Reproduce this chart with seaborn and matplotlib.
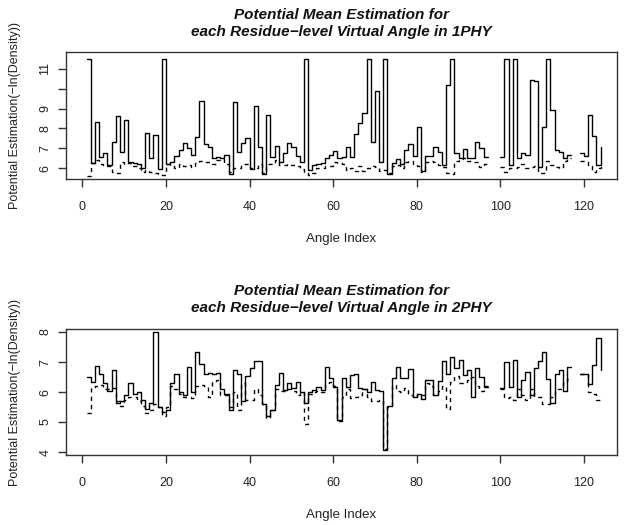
import numpy as np
import pandas as pd
import matplotlib
matplotlib.use("Agg")
import matplotlib.pyplot as plt
import seaborn as sns

nan = np.nan
angle_index = list(range(1, 125))

top_solid = [11.5, 6.25, 8.3, 6.58, 6.75, 6.17, 7.33, 8.6, 6.8, 8.4,
             6.3, 6.25, 6.2, 6.0, 7.77, 6.5, 7.67, 5.97, 11.5, 6.2,
             6.33, 6.63, 6.92, 7.25, 7.0, 6.67, 7.58, 9.37, 7.2, 7.07,
             6.53, 6.58, 6.53, 6.67, 5.72, 9.33, 6.8, 7.25, 7.5, 5.97,
             9.13, 7.05, 5.7, 8.67, 6.58, 7.12, 6.33, 6.78, 7.25, 7.05,
             6.63, 6.33, 11.5, 5.92, 6.17, 6.22, 6.25, 6.53, 6.67, 6.87,
             6.5, 6.58, 7.05, 6.58, 7.7, 8.25, 8.78, 11.5, 7.33, 9.87,
             6.3, 11.5, 5.7, 6.25, 6.45, 6.22, 6.9, 7.2, 6.63, 8.08,
             5.85, 6.6, 6.63, 7.08, 6.8, 6.17, 10.17, 11.5, 6.75, 6.5,
             6.97, 6.5, 6.5, 7.33, 7.03, 6.58, 6.58, nan, nan, 6.58,
             11.5, 6.15, 11.5, 6.5, 6.78, 6.67, 10.42, 10.38, 6.03, 8.08,
             11.5, 8.92, 6.92, 6.83, 6.5, 6.67, 6.67, nan, 6.75, 6.6,
             8.67, 7.63, 6.17, 7.08]

top_dashed = [5.6, 6.25, 6.4, 6.2, 6.15, 6.1, 5.8, 5.75, 6.3, 6.2,
              6.25, 6.1, 6.0, 5.8, 5.9, 5.8, 5.75, 5.7, 5.65, 6.2,
              6.1, 6.0, 6.2, 6.1, 6.15, 6.05, 6.25, 6.35, 6.3, 6.3,
              6.2, 6.4, 6.45, 6.2, 5.8, 6.0, 6.0, 6.2, 6.2, 6.0,
              6.0, 6.2, 5.75, 6.2, 6.2, 6.4, 6.15, 6.15, 6.2, 6.15,
              6.1, 5.95, 5.8, 5.65, 5.75, 6.0, 6.0, 6.1, 6.1, 6.3,
              6.25, 6.2, 5.9, 6.0, 5.85, 6.1, 5.85, 6.0, 6.1, 6.05,
              5.85, 5.9, 5.75, 6.1, 6.15, 6.0, 6.3, 6.35, 6.2, 6.1,
              5.8, 6.3, 6.35, 6.3, 6.15, 6.05, 5.75, 5.7, 6.35, 6.45,
              6.5, 6.35, 6.3, 6.3, 6.05, 6.2, 6.2, nan, nan, 6.05,
              5.8, 6.0, 6.0, 6.05, 6.2, 6.0, 6.05, 6.1, 5.75, 5.75,
              6.35, 6.15, 6.05, 6.0, 6.35, 6.5, 6.5, nan, 6.35, 6.35,
              6.1, 5.8, 6.0, 6.1]

bot_solid = [6.49, 6.32, 6.86, 6.59, 6.3, 6.05, 6.73, 5.65, 5.7, 5.9,
             6.3, 5.95, 6.0, 5.75, 5.45, 5.65, 8.0, 5.5, 5.35, 5.4,
             6.3, 6.6, 6.0, 5.9, 6.85, 6.0, 7.35, 6.95, 6.6, 6.65,
             6.6, 6.65, 6.1, 5.95, 5.4, 6.75, 6.6, 5.7, 6.55, 6.8,
             7.05, 7.05, 5.6, 5.2, 5.4, 6.23, 6.62, 6.07, 6.3, 6.15,
             6.35, 6.0, 5.62, 6.0, 6.07, 6.18, 6.07, 6.85, 6.46, 6.18,
             5.07, 6.48, 6.18, 6.57, 6.59, 6.12, 6.1, 6.0, 6.32, 6.07,
             6.05, 4.07, 5.55, 6.48, 6.85, 6.48, 6.48, 6.77, 5.84, 5.95,
             5.77, 6.4, 6.4, 5.9, 6.37, 7.03, 6.59, 7.16, 6.81, 7.07,
             6.57, 6.73, 5.84, 6.81, 6.51, 6.18, 6.18, nan, nan, 6.14,
             7.01, 6.18, 7.07, 5.84, 6.4, 6.68, 5.9, 6.79, 7.03, 7.32,
             6.45, 5.62, 6.59, 6.73, 6.03, 6.84, 6.84, nan, 6.59, 6.59,
             6.26, 6.9, 7.8, 6.75]

bot_dashed = [5.29, 6.18, 6.2, 6.25, 6.1, 6.1, 6.15, 5.7, 5.55, 5.75,
              5.85, 5.85, 5.7, 5.55, 5.3, 5.4, 5.6, 5.5, 5.2, 5.5,
              6.2, 6.1, 5.95, 5.85, 5.85, 5.8, 6.2, 6.25, 6.2, 5.85,
              6.35, 6.4, 5.9, 5.9, 5.5, 6.0, 5.4, 6.3, 5.75, 5.75,
              6.1, 5.9, 5.6, 5.15, 5.4, 6.1, 6.05, 6.05, 6.1, 6.05,
              5.9, 6.0, 4.95, 5.95, 6.0, 6.05, 6.0, 6.3, 6.35, 6.2,
              5.05, 5.85, 6.1, 5.8, 5.85, 5.9, 6.1, 5.85, 5.7, 5.7,
              5.75, 4.1, 5.5, 6.25, 6.05, 6.0, 6.15, 5.9, 5.85, 5.95,
              5.9, 6.3, 6.2, 5.9, 6.05, 6.2, 5.45, 6.35, 6.55, 6.3,
              6.35, 6.4, 6.5, 6.2, 6.05, 6.2, 6.2, nan, nan, 6.1,
              5.8, 5.85, 5.75, 6.1, 5.9, 5.75, 6.1, 5.85, 5.85, 5.6,
              5.6, 5.85, 6.1, 6.1, 6.3, 6.45, 6.45, nan, 6.6, 6.6,
              6.0, 5.95, 5.75, 5.65]

titles = ["Potential Mean Estimation for\neach Residue\u2212level Virtual Angle in 1PHY",
          "Potential Mean Estimation for\neach Residue\u2212level Virtual Angle in 2PHY"]
xticks = [0, 20, 40, 60, 80, 100, 120]
top_yticks = [6, 7, 8, 9, 10, 11]
top_yticklabels = ["6", "7", "8", "9", "", "11"]
bot_yticks = [4, 5, 6, 7, 8]
bot_yticklabels = ["4", "5", "6", "7", "8"]
xlabel = "Angle Index"
ylabel = "Potential Estimation(\u2212ln(Density))"

sns.set_theme(style="ticks")
plt.rcParams["font.family"] = ["Liberation Sans", "DejaVu Sans"]
plt.rcParams["axes.linewidth"] = 1.0
plt.rcParams["axes.edgecolor"] = "#333333"
plt.rcParams["xtick.color"] = "#333333"
plt.rcParams["ytick.color"] = "#333333"
plt.rcParams["xtick.major.size"] = 5.5
plt.rcParams["ytick.major.size"] = 5.5
plt.rcParams["xtick.major.width"] = 1.0
plt.rcParams["ytick.major.width"] = 1.0

fig = plt.figure(figsize=(6.24, 5.25), dpi=100)
L, R = 66 / 624, 617 / 624
ax1 = fig.add_axes([L, (525 - 179) / 525, R - L, 127 / 525])
ax2 = fig.add_axes([L, (525 - 455) / 525, R - L, 126 / 525])


def step_frame(x, y):
    y = np.asarray(y, dtype=float)
    seg = np.cumsum(np.isnan(y))
    df = pd.DataFrame({"x": x, "y": y, "seg": seg})
    return df.dropna()


def draw(ax, solid, dashed, title, yticks, yticklabels, ylim, tpad):
    sns.lineplot(data=step_frame(angle_index, solid), x="x", y="y", units="seg",
                 estimator=None, drawstyle="steps-post", color="black",
                 linewidth=1.0, ax=ax)
    sns.lineplot(data=step_frame(angle_index, dashed), x="x", y="y", units="seg",
                 estimator=None, drawstyle="steps-post", color="black",
                 linewidth=1.0, linestyle=(0, (3, 3)), ax=ax)
    ax.set_xlim(-3.92, 127.92)
    ax.set_ylim(*ylim)
    ax.set_xticks(xticks)
    ax.set_xticklabels([str(t) for t in xticks], fontsize=9, color="#222222")
    ax.set_yticks(yticks)
    ax.set_yticklabels(yticklabels, fontsize=9, rotation=90, va="center",
                       color="#222222")
    ax.tick_params(axis="x", pad=10.5)
    ax.tick_params(axis="y", pad=5)
    ax.set_xlabel(xlabel, fontsize=9.5, color="#222222", labelpad=14)
    ax.set_ylabel(ylabel, fontsize=9, color="#222222", labelpad=13.5)
    ax.set_title(title, fontsize=11, fontweight="bold", fontstyle="italic",
                 color="#111111", pad=tpad, linespacing=1.25)
    for s in ax.spines.values():
        s.set_visible(True)


draw(ax1, top_solid, top_dashed, titles[0], top_yticks, top_yticklabels, (5.45, 11.85), 11.5)
draw(ax2, bot_solid, bot_dashed, titles[1], bot_yticks, bot_yticklabels, (3.9, 8.1), 12.5)

fig.savefig("out.png", dpi=100)
